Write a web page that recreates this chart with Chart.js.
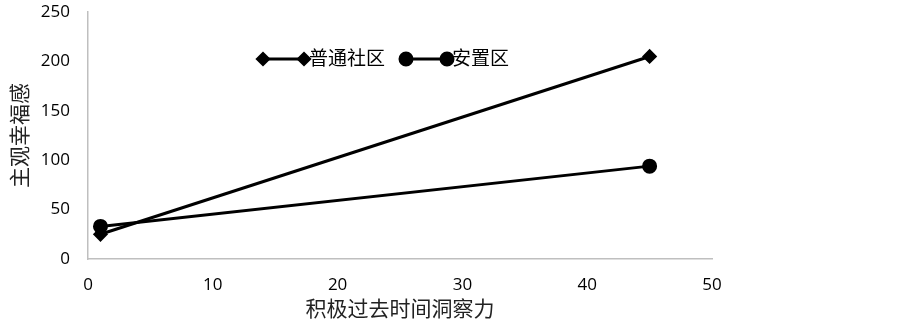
<!DOCTYPE html>
<html>
<head>
<meta charset="utf-8">
<script src="https://cdn.jsdelivr.net/npm/chart.js@4/dist/chart.umd.min.js"></script>
<style>
  html, body { margin: 0; padding: 0; background: #fff; }
  #wrap { width: 903px; height: 325px; }
</style>
</head>
<body>
<div id="wrap"><canvas id="c"></canvas></div>
<script>
// data
const xValues = [1, 45];
const normalValues = [25, 205];   // 普通社区
const resettleValues = [33, 94];  // 安置区
const seriesNames = ['普通社区', '安置区'];
const xTitle = '积极过去时间洞察力';
const yTitle = '主观幸福感';

const toPoints = (ys) => xValues.map((x, i) => ({ x, y: ys[i] }));

// legend in the style of the original: line with a marker at each end
const lineLegend = {
  id: 'lineLegend',
  afterDraw(chart) {
    const ctx = chart.ctx;
    const items = [
      { x: 263, style: 'rectRot', r: 5.5, label: seriesNames[0] },
      { x: 406, style: 'circle', r: 6, label: seriesNames[1] }
    ];
    const y = 59;
    ctx.save();
    items.forEach(it => {
      ctx.strokeStyle = '#000';
      ctx.lineWidth = 3;
      ctx.beginPath();
      ctx.moveTo(it.x, y);
      ctx.lineTo(it.x + 41, y);
      ctx.stroke();
      const opts = { pointStyle: it.style, radius: it.r, rotation: 0, borderWidth: 1 };
      ctx.fillStyle = '#000';
      Chart.helpers.drawPoint(ctx, opts, it.x, y);
      Chart.helpers.drawPoint(ctx, opts, it.x + 41, y);
      ctx.font = '19px "Noto Sans CJK SC"';
      ctx.textBaseline = 'middle';
      ctx.fillStyle = '#000';
      ctx.fillText(it.label, it.x + 46, y - 1);
    });
    ctx.restore();
  }
};

new Chart(document.getElementById('c'), {
  type: 'scatter',
  data: {
    datasets: [
      {
        label: seriesNames[0],
        data: toPoints(normalValues),
        showLine: true,
        borderColor: '#000',
        backgroundColor: '#000',
        borderWidth: 3,
        pointStyle: 'rectRot',
        pointRadius: 5.5,
        pointHoverRadius: 5.5
      },
      {
        label: seriesNames[1],
        data: toPoints(resettleValues),
        showLine: true,
        borderColor: '#000',
        backgroundColor: '#000',
        borderWidth: 3,
        pointStyle: 'circle',
        pointRadius: 6,
        pointHoverRadius: 6
      }
    ]
  },
  options: {
    responsive: true,
    maintainAspectRatio: false,
    animation: false,
    layout: { padding: { top: 0, right: 191, bottom: 0, left: 0 } },
    plugins: { legend: { display: false }, tooltip: { enabled: false } },
    scales: {
      x: {
        type: 'linear',
        min: 0, max: 50,
        grid: { display: false, drawTicks: false },
        border: { display: true, color: '#bfbfbf', width: 1.5 },
        ticks: { stepSize: 10, color: '#000', font: { family: 'Open Sans', size: 17 }, padding: 16 },
        title: { display: true, text: xTitle, color: '#222', font: { family: 'Noto Sans CJK SC', size: 21 }, padding: { top: 0, bottom: 4 } },
        afterFit: (s) => { s.height = 66; }
      },
      y: {
        min: 0, max: 250,
        grid: { display: false, drawTicks: false },
        border: { display: true, color: '#bfbfbf', width: 1.5 },
        ticks: { stepSize: 50, color: '#000', font: { family: 'Open Sans', size: 17 }, padding: 18 },
        title: { display: true, text: yTitle, color: '#222', font: { family: 'Noto Sans CJK SC', size: 21 }, padding: { top: 6, bottom: 0 } },
        afterFit: (s) => { s.width = 88; s.paddingTop = 12; s.paddingBottom = 0; }
      }
    }
  },
  plugins: [lineLegend]
});
</script>
</body>
</html>
